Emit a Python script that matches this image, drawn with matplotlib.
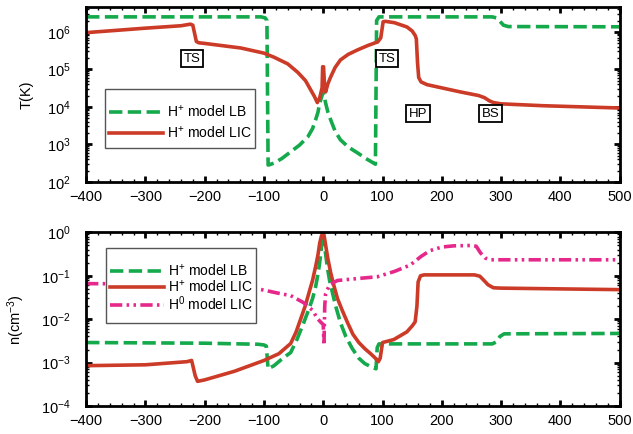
import numpy as np
import matplotlib
matplotlib.use('Agg')
import matplotlib.pyplot as plt
from matplotlib.patches import Rectangle
from matplotlib.ticker import MultipleLocator, LogLocator, NullFormatter

plt.rcParams['font.family'] = ['Liberation Sans', 'DejaVu Sans']
plt.rcParams['mathtext.fontset'] = 'custom'
plt.rcParams['mathtext.rm'] = 'Liberation Sans'
plt.rcParams['mathtext.it'] = 'Liberation Sans'
plt.rcParams['mathtext.bf'] = 'Liberation Sans'

GREEN = '#14a94b'
RED = '#cc3b27'
MAGENTA = '#e6288b'

# ---- upper panel: temperature
lb_T_x = [-400, -105, -98, -95, -93, -92, -83, -70, -55, -40, -26, -18, -13, -9, -6, -3, 0,
          2, 4, 8, 12.6, 20, 29, 42, 58, 72, 85, 88, 90, 94, 285, 292, 298, 304, 312, 500]
lb_T = [2.5e6, 2.5e6, 2.35e6, 2.0e6, 282, 282, 316, 417, 631, 955, 1585, 2630, 4470, 7080, 1.26e4, 1.78e4, 2.5e4,
        1.78e4, 1.26e4, 7080, 4470, 2240, 1320, 851, 589, 417, 316, 295, 2.0e6, 2.5e6, 2.5e6, 2.35e6, 1.9e6, 1.5e6, 1.38e6, 1.36e6]

lic_T_x = [-400, -300, -240, -224, -220, -214, -210, -200, -139, -100, -83, -60, -43, -30, -21, -15, -10,
           -6, -2, -1, 0.5, 2, 4, 8, 12.6, 20, 29, 42, 58, 75, 92, 97, 101, 105, 120, 141, 150,
           155, 157, 159, 161, 165, 175, 231, 262, 272, 280, 287, 300, 371, 500]
lic_T = [9.5e5, 1.25e6, 1.45e6, 1.6e6, 1.5e6, 5.5e5, 5.1e5, 4.9e5, 3.7e5, 2.7e5, 2.1e5, 1.4e5, 8.3e4, 5e4, 2.8e4, 1.9e4, 1.3e4,
         1.74e4, 3.2e4, 1.17e5, 1.17e5, 4e4, 2.5e4, 4.2e4, 6.3e4, 1.12e5, 1.78e5, 2.5e5, 3.3e5, 4.3e5, 5.4e5, 6.9e5, 1.86e6, 1.9e6, 1.75e6, 1.35e6, 1.05e6,
         8e5, 6.5e5, 1.5e5, 6e4, 4.6e4, 3.9e4, 2.5e4, 2.0e4, 1.75e4, 1.45e4, 1.3e4, 1.2e4, 1.07e4, 9.3e3]

# ---- lower panel: density
lb_n_x = [-400, -200, -110, -100, -96, -93, -83, -67, -55, -44, -33, -25, -18, -13, -9.5, -6.5, -4, -2, 0,
          2, 4.5, 7.5, 11, 15.5, 21, 29, 38, 49, 60, 70, 80, 89, 91, 94, 285, 292, 298, 305, 500]
lb_n = [2.9e-3, 2.8e-3, 2.65e-3, 2.55e-3, 2.4e-3, 7.2e-4, 8.5e-4, 1.3e-3, 1.7e-3, 3.5e-3, 8.3e-3, 0.016, 0.03, 0.055, 0.1, 0.18, 0.34, 0.6, 1.0,
        0.5, 0.28, 0.14, 0.074, 0.041, 0.02, 8.3e-3, 4e-3, 2.1e-3, 1.26e-3, 9.5e-4, 8.1e-4, 7.2e-4, 2.2e-3, 2.7e-3, 2.7e-3, 3.0e-3, 4.0e-3, 4.6e-3, 4.7e-3]

lic_n_x = [-400, -300, -230, -222, -216, -212, -200, -150, -100, -75, -55, -46, -38, -30, -24, -18, -12.6, -9, -5.9, -3, 0,
           2, 4.2, 8, 12.6, 18, 24, 32, 41, 50, 60, 70, 80, 88, 93, 96, 100, 119, 141, 150, 155, 158, 160, 164, 170,
           255, 264, 270, 278, 287, 300, 500]
lic_n = [8.5e-4, 8.9e-4, 1.05e-3, 1.12e-3, 5e-4, 3.7e-4, 4e-4, 6.3e-4, 1.12e-3, 1.6e-3, 2.75e-3, 5e-3, 0.0102, 0.021, 0.041, 0.079, 0.17, 0.3, 0.575, 0.83, 1.0,
         0.76, 0.49, 0.24, 0.117, 0.059, 0.03, 0.016, 8.3e-3, 4.5e-3, 2.9e-3, 2.1e-3, 1.6e-3, 1.26e-3, 1.05e-3, 1.26e-3, 2.9e-3, 3.4e-3, 5.1e-3, 7e-3, 8.7e-3, 0.02, 0.072, 0.1, 0.105,
         0.105, 0.098, 0.081, 0.062, 0.053, 0.052, 0.048]

h0_n_x = [-400, -300, -200, -110, -77, -55, -33, -18, -9.5, -4, 0, 1.2, 2.5, 4, 11, 24, 60, 91,
          120, 147, 165, 180, 200, 220, 251, 258, 265, 273, 282, 500]
h0_n = [0.066, 0.065, 0.06, 0.05, 0.04, 0.035, 0.024, 0.016, 0.0102, 8.5e-3, 7.5e-3, 2.5e-3, 0.02, 0.039, 0.063, 0.078, 0.087, 0.095,
        0.126, 0.178, 0.28, 0.38, 0.46, 0.49, 0.5, 0.48, 0.34, 0.257, 0.234, 0.234]

labels = ['TS', 'TS', 'HP', 'BS']
label_x = [-221, 107, 160, 282]
label_y = [1.9e5, 1.9e5, 6.5e3, 6.5e3]

fig = plt.figure(figsize=(6.33, 4.34), dpi=100)
ax1 = fig.add_axes([0.136, 0.581, 0.843, 0.403])
ax2 = fig.add_axes([0.136, 0.0645, 0.843, 0.400])

dash = (3.7, 1.5)
dashdotdot = (3.4, 1.2, 0.7, 1.2, 0.7, 1.2)

ax1.plot(lb_T_x, lb_T, color=GREEN, lw=2.6, dashes=dash, label=r'H$^{+}$ model LB')
ax1.plot(lic_T_x, lic_T, color=RED, lw=2.6, label=r'H$^{+}$ model LIC')

ax2.plot(lb_n_x, lb_n, color=GREEN, lw=2.6, dashes=dash, label=r'H$^{+}$ model LB')
ax2.plot(lic_n_x, lic_n, color=RED, lw=2.6, label=r'H$^{+}$ model LIC')
ax2.plot(h0_n_x, h0_n, color=MAGENTA, lw=2.6, dashes=dashdotdot, label=r'H$^{0}$ model LIC')

for txt, x, y in zip(labels, label_x, label_y):
    ax1.text(x, y, txt, fontsize=9.5, ha='center', va='center',
             bbox=dict(boxstyle='square,pad=0.2', fc='white', ec='black', lw=1.3))

ax1.set_ylim(1e2, 4.6e6)
ax2.set_ylim(1e-4, 1.0)
ax1.set_ylabel('T(K)', fontsize=10.5, labelpad=10)
ax2.set_ylabel(r'n(cm$^{-3}$)', fontsize=10.5, labelpad=10)

for ax in (ax1, ax2):
    ax.set_yscale('log')
    ax.set_xlim(-400, 500)
    ax.xaxis.set_major_locator(MultipleLocator(100))
    ax.xaxis.set_minor_locator(MultipleLocator(20))
    ax.yaxis.set_major_locator(LogLocator(base=10, numticks=10))
    ax.yaxis.set_minor_locator(LogLocator(base=10, subs=np.arange(2, 10), numticks=10))
    ax.yaxis.set_minor_formatter(NullFormatter())
    ax.tick_params(which='both', direction='in', top=True, right=True, labelsize=10.5)
    ax.tick_params(which='major', length=4, width=2)
    ax.tick_params(which='minor', length=2, width=1)
    ax.tick_params(axis='x', pad=6)
    ax.tick_params(axis='y', pad=11)
    for s in ax.spines.values():
        s.set_linewidth(2)


def boxed_legend(ax, x_left, y_mid, box_mid, box_h, spacing):
    # legend without its own frame, then a taller frame drawn around it
    leg = ax.legend(loc='center left', bbox_to_anchor=(x_left, y_mid), fontsize=10,
                    handlelength=3.9, frameon=False, borderaxespad=0, borderpad=0.25,
                    labelspacing=spacing, handletextpad=0.3)
    leg.set_zorder(6)
    fig.canvas.draw()
    bb = leg.get_window_extent().transformed(ax.transAxes.inverted())
    ax.add_patch(Rectangle((bb.x0, box_mid - box_h / 2), bb.width, box_h, transform=ax.transAxes,
                           fc='white', ec='#555555', lw=1.0, zorder=5))


boxed_legend(ax1, 0.036, 0.34, 0.363, 59 / 175, 0.35)
boxed_legend(ax2, 0.0375, 0.68, 0.695, 75 / 173.5, 0.0)

fig.savefig('out.png', dpi=100)
